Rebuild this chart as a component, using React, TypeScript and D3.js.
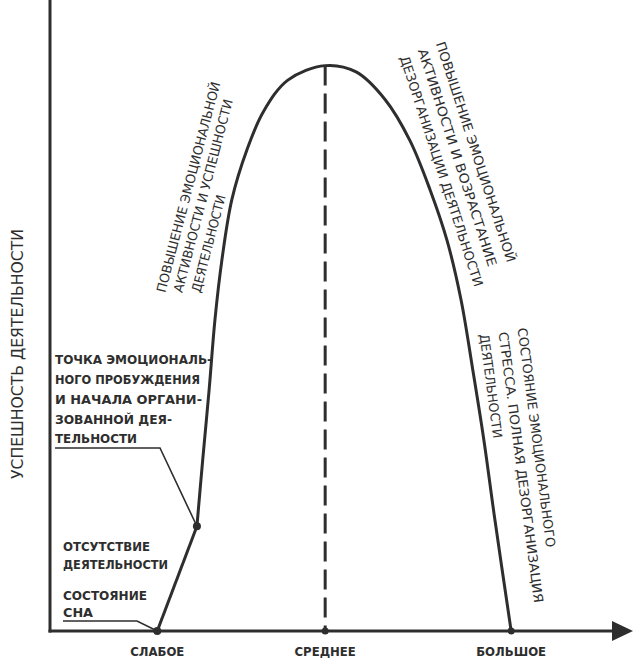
import * as d3 from "d3";
import { useEffect, useRef } from "react";

// уровень эмоционального возбуждения (ось X, 0..100) и успешность (ось Y, 0..100)
const tickLabels = ["СЛАБОЕ", "СРЕДНЕЕ", "БОЛЬШОЕ"];
const tickValues = [18.4, 47.2, 79.1];

// точки кривой: от состояния сна до точки пробуждения — прямой отрезок
const sleepToWake: [number, number][] = [
  [18.4, 0],
  [25.2, 16.6],
];

// дальше — колокол
const bellCurve: [number, number][] = [
  [25.2, 16.6],
  [26.2, 27.2],
  [27.3, 38.3],
  [28.3, 49.4],
  [29.5, 58.9],
  [31.2, 68.4],
  [33.8, 76.3],
  [36.6, 82.3],
  [40.8, 87.3],
  [47.2, 89.6],
  [52.5, 88.6],
  [57.5, 84.2],
  [61.7, 77.8],
  [65.2, 69.9],
  [68.1, 61.9],
  [70.5, 52.5],
  [72.5, 41.5],
  [74.4, 30.4],
  [76.3, 17.7],
  [79.1, 0],
];

const yAxisLabel = "УСПЕШНОСТЬ ДЕЯТЕЛЬНОСТИ";

const wakeNote = [
  "ТОЧКА ЭМОЦИОНАЛЬ-",
  "НОГО ПРОБУЖДЕНИЯ",
  "И НАЧАЛА ОРГАНИ-",
  "ЗОВАННОЙ ДЕЯ-",
  "ТЕЛЬНОСТИ",
];
const absenceNote = ["ОТСУТСТВИЕ", "ДЕЯТЕЛЬНОСТИ"];
const sleepNote = ["СОСТОЯНИЕ", "СНА"];

const risingNote = [
  "ПОВЫШЕНИЕ ЭМОЦИОНАЛЬНОЙ",
  "АКТИВНОСТИ И УСПЕШНОСТИ",
  "ДЕЯТЕЛЬНОСТИ",
];
const fallingNote = [
  "ПОВЫШЕНИЕ ЭМОЦИОНАЛЬНОЙ",
  "АКТИВНОСТИ И ВОЗРАСТАНИЕ",
  "ДЕЗОРГАНИЗАЦИИ ДЕЯТЕЛЬНОСТИ",
];
const stressNote = [
  "СОСТОЯНИЕ ЭМОЦИОНАЛЬНОГО",
  "СТРЕССА. ПОЛНАЯ  ДЕЗОРГАНИЗАЦИЯ",
  "ДЕЯТЕЛЬНОСТИ",
];

const INK = "#2e2e2e";
const FONT = "'Liberation Sans Narrow', 'DejaVu Sans Condensed', 'Liberation Sans', sans-serif";

const App = () => {
  const svgRef = useRef<SVGSVGElement | null>(null);

  useEffect(() => {
    const width = 641;
    const height = 662;

    d3.select(svgRef.current).selectAll("*").remove();
    const svg = d3
      .select(svgRef.current)
      .attr("width", width)
      .attr("height", height)
      .style("background", "#fff");

    const x = d3.scaleLinear().domain([0, 100]).range([50, 633]);
    const y = d3.scaleLinear().domain([0, 100]).range([631, 0]);

    // оси
    svg
      .append("line")
      .attr("x1", x(0))
      .attr("x2", x(0))
      .attr("y1", y(100))
      .attr("y2", y(0) + 1.5)
      .attr("stroke", INK)
      .attr("stroke-width", 3);

    const axisEnd = 612;
    svg
      .append("line")
      .attr("x1", x(0) - 1.5)
      .attr("x2", axisEnd)
      .attr("y1", y(0))
      .attr("y2", y(0))
      .attr("stroke", INK)
      .attr("stroke-width", 3);
    svg
      .append("path")
      .attr("d", `M${axisEnd},${y(0) - 10}L${x(100)},${y(0)}L${axisEnd},${y(0) + 10}Z`)
      .attr("fill", INK);

    // подписи делений
    svg
      .append("g")
      .selectAll("text")
      .data(tickLabels)
      .join("text")
      .attr("x", (_, i) => x(tickValues[i]))
      .attr("y", 656)
      .attr("text-anchor", "middle")
      .attr("font-family", FONT)
      .attr("font-weight", "bold")
      .attr("font-size", 13)
      .attr("fill", INK)
      .text((d) => d);

    svg
      .append("text")
      .attr("transform", `translate(23, 354) rotate(-90)`)
      .attr("text-anchor", "middle")
      .attr("font-family", FONT)
      .attr("font-size", 16)
      .attr("textLength", 250)
      .attr("lengthAdjust", "spacingAndGlyphs")
      .attr("fill", INK)
      .text(yAxisLabel);

    // пунктир от вершины
    const peak = bellCurve.reduce((a, b) => (b[1] > a[1] ? b : a));
    svg
      .append("line")
      .attr("x1", x(peak[0]))
      .attr("x2", x(peak[0]))
      .attr("y1", y(peak[1]))
      .attr("y2", y(0))
      .attr("stroke", INK)
      .attr("stroke-width", 3)
      .attr("stroke-dasharray", "20 8");

    // кривая
    const line = d3
      .line<[number, number]>()
      .x((d) => x(d[0]))
      .y((d) => y(d[1]));

    svg
      .append("path")
      .attr("d", line(sleepToWake)!)
      .attr("fill", "none")
      .attr("stroke", INK)
      .attr("stroke-width", 3);

    svg
      .append("path")
      .attr("d", line.curve(d3.curveCatmullRom.alpha(0.5))(bellCurve)!)
      .attr("fill", "none")
      .attr("stroke", INK)
      .attr("stroke-width", 3)
      .attr("stroke-linejoin", "round");

    const wake = sleepToWake[1];
    const sleep = sleepToWake[0];

    // выноски
    svg
      .append("path")
      .attr("d", `M55,448L160,448L${x(wake[0])},${y(wake[1])}`)
      .attr("fill", "none")
      .attr("stroke", INK)
      .attr("stroke-width", 1.6);
    svg
      .append("path")
      .attr("d", `M63,621L137,621L${x(sleep[0])},${y(sleep[1])}`)
      .attr("fill", "none")
      .attr("stroke", INK)
      .attr("stroke-width", 1.6);

    svg
      .selectAll("circle.pt")
      .data(sleepToWake)
      .join("circle")
      .attr("class", "pt")
      .attr("cx", (d) => x(d[0]))
      .attr("cy", (d) => y(d[1]))
      .attr("r", 4)
      .attr("fill", INK);
    svg
      .append("circle")
      .attr("cx", x(peak[0]))
      .attr("cy", y(0))
      .attr("r", 3.5)
      .attr("fill", INK);
    svg
      .append("circle")
      .attr("cx", x(bellCurve[bellCurve.length - 1][0]))
      .attr("cy", y(0))
      .attr("r", 3.5)
      .attr("fill", INK);

    // горизонтальные подписи слева
    const block = (lines: string[], x0: number, baselines: number[], lens: number[]) => {
      svg
        .append("g")
        .selectAll("text")
        .data(lines)
        .join("text")
        .attr("x", x0)
        .attr("y", (_, i) => baselines[i])
        .attr("font-family", FONT)
        .attr("font-weight", "bold")
        .attr("font-size", 13)
        .attr("textLength", (_, i) => lens[i])
        .attr("lengthAdjust", "spacingAndGlyphs")
        .attr("fill", INK)
        .text((d) => d);
    };
    block(wakeNote, 55, [364, 384, 404, 424, 443], [157, 145, 147, 117, 82]);
    block(absenceNote, 63, [551, 569], [87, 105]);
    block(sleepNote, 63, [600, 617], [84, 30]);

    // наклонные подписи
    const slanted = (
      lines: string[],
      starts: [number, number][],
      angle: number,
      lens: number[],
      size: number
    ) => {
      svg
        .append("g")
        .selectAll("text")
        .data(lines)
        .join("text")
        .attr("transform", (_, i) => `translate(${starts[i][0]},${starts[i][1]}) rotate(${angle})`)
        .attr("dominant-baseline", "central")
        .attr("font-family", FONT)
        .attr("font-size", size)
        .attr("textLength", (_, i) => lens[i])
        .attr("lengthAdjust", "spacingAndGlyphs")
        .attr("fill", INK)
        .text((d) => d);
    };
    slanted(risingNote, [[161, 292], [178, 292], [196, 292]], -75.3, [217, 199, 100], 13);
    slanted(fallingNote, [[440, 42], [422, 49], [404, 56]], 72, [231, 228, 242], 13);
    slanted(stressNote, [[522, 328], [503, 332], [484, 334]], 82.5, [221, 273, 105], 13);
  }, []);

  return <svg ref={svgRef} style={{ position: "absolute", left: 0, top: 0 }} />;
};

export default App;
